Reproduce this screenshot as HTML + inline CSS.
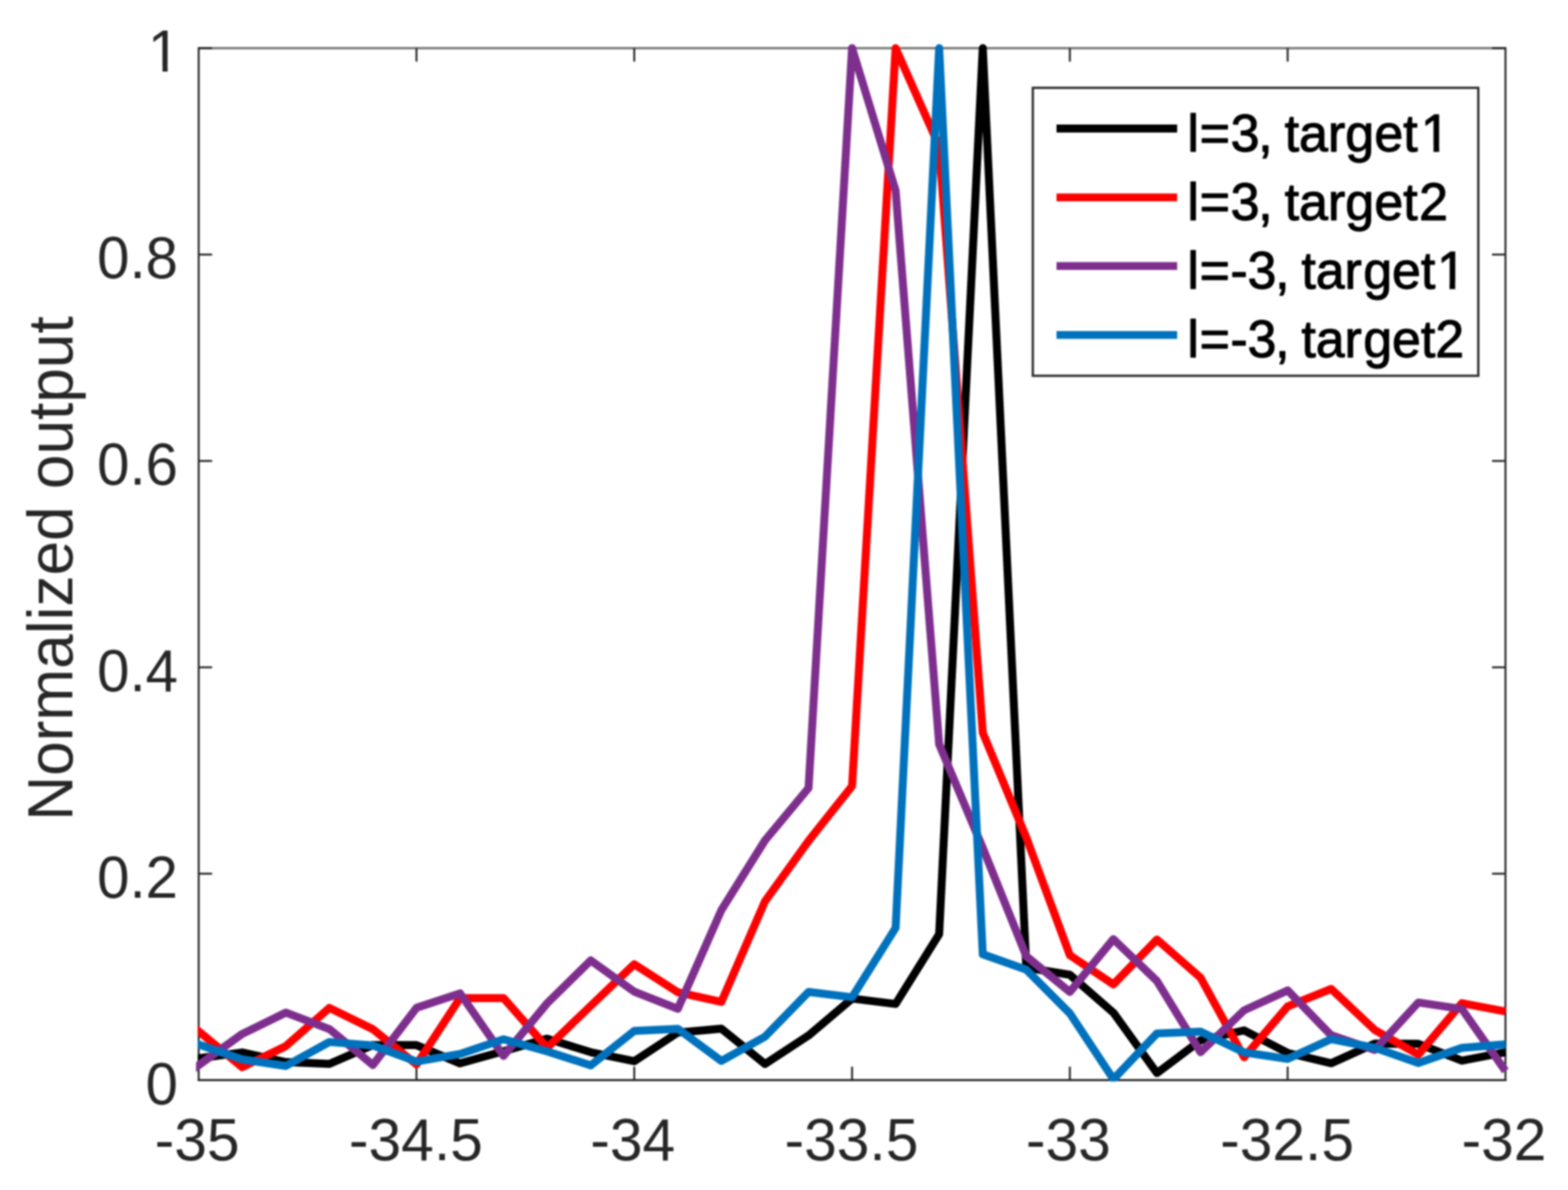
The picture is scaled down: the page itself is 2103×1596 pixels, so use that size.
<!DOCTYPE html>
<html lang="en"><head><meta charset="utf-8"><title>Normalized output</title>
<style>
html,body{margin:0;padding:0;background:#fff;overflow:hidden}
body{width:2103px;height:1596px}
svg{display:block;position:absolute;left:0;top:0}
text{font-family:"Liberation Sans",sans-serif}
.tk{font-size:80px;fill:#262626}
.lg{font-size:70.5px;fill:#000;stroke:#000;stroke-width:1.4;stroke-linejoin:round}
.yl{font-size:84.5px;fill:#262626}
.ln{fill:none;stroke-width:10.7;stroke-linejoin:round;stroke-miterlimit:100;stroke-linecap:butt}
</style></head><body>
<svg width="2103" height="1596" viewBox="0 0 2103 1596">
<defs><clipPath id="ax"><rect x="265.3" y="57.6" width="1757.8" height="1393.0"/></clipPath>
<clipPath id="ax2"><rect x="262.9" y="57.6" width="1760.2" height="1392.7"/></clipPath>
<filter id="bl" x="-2%" y="-2%" width="104%" height="104%" color-interpolation-filters="sRGB"><feGaussianBlur stdDeviation="1.0"/></filter>
<clipPath id="c1y" clipPathUnits="userSpaceOnUse"><path clip-rule="evenodd" d="M-3000,-3000H5000V3000H-3000Z M-41.40,-7.58H-24.38V4H-41.40Z M-17.30,-7.58H-0.91V4H-17.30Z"/></clipPath>
<clipPath id="c1a" clipPathUnits="userSpaceOnUse"><path clip-rule="evenodd" d="M-3000,-3000H5000V3000H-3000Z M318.86,-7.57H333.52V4H318.86Z M341.15,-7.57H355.26V4H341.15Z"/></clipPath>
<clipPath id="c1b" clipPathUnits="userSpaceOnUse"><path clip-rule="evenodd" d="M-3000,-3000H5000V3000H-3000Z M342.34,-7.57H357.00V4H342.34Z M364.63,-7.57H378.74V4H364.63Z"/></clipPath>
</defs>
<rect width="2103" height="1596" fill="#fff"/>
<g filter="url(#bl)">
<g fill="none" stroke-width="2.6">
<line x1="266.5" y1="64.6" x2="2019.1" y2="64.6" stroke="#7c7c7c" stroke-width="3.2"/>
<line x1="2019.1" y1="63.3" x2="2019.1" y2="1449.9" stroke="#262626"/>
<line x1="266.5" y1="63.3" x2="266.5" y2="1449.9" stroke="#262626"/>
<line x1="265.2" y1="1448.6" x2="2020.4" y2="1448.6" stroke="#262626"/>
<g stroke="#262626">
<line x1="558.6" y1="1448.6" x2="558.6" y2="1430.6"/>
<line x1="558.6" y1="64.6" x2="558.6" y2="82.6"/>
<line x1="850.7" y1="1448.6" x2="850.7" y2="1430.6"/>
<line x1="850.7" y1="64.6" x2="850.7" y2="82.6"/>
<line x1="1142.8" y1="1448.6" x2="1142.8" y2="1430.6"/>
<line x1="1142.8" y1="64.6" x2="1142.8" y2="82.6"/>
<line x1="1434.9" y1="1448.6" x2="1434.9" y2="1430.6"/>
<line x1="1434.9" y1="64.6" x2="1434.9" y2="82.6"/>
<line x1="1727.0" y1="1448.6" x2="1727.0" y2="1430.6"/>
<line x1="1727.0" y1="64.6" x2="1727.0" y2="82.6"/>
<line x1="266.5" y1="1171.8" x2="284.5" y2="1171.8"/>
<line x1="2019.1" y1="1171.8" x2="2001.1" y2="1171.8"/>
<line x1="266.5" y1="895.0" x2="284.5" y2="895.0"/>
<line x1="2019.1" y1="895.0" x2="2001.1" y2="895.0"/>
<line x1="266.5" y1="618.2" x2="284.5" y2="618.2"/>
<line x1="2019.1" y1="618.2" x2="2001.1" y2="618.2"/>
<line x1="266.5" y1="341.4" x2="284.5" y2="341.4"/>
<line x1="2019.1" y1="341.4" x2="2001.1" y2="341.4"/>
<line x1="266.5" y1="64.6" x2="284.5" y2="64.6"/>
<line x1="2019.1" y1="64.6" x2="2001.1" y2="64.6"/>
</g></g>
<text class="tk" transform="translate(264.5,1555.5) scale(0.985,1)" text-anchor="middle">-35</text>
<text class="tk" transform="translate(557.8,1555.5) scale(0.985,1)" text-anchor="middle">-34.5</text>
<text class="tk" transform="translate(848.7,1555.5) scale(0.985,1)" text-anchor="middle">-34</text>
<text class="tk" transform="translate(1142.0,1555.5) scale(0.985,1)" text-anchor="middle">-33.5</text>
<text class="tk" transform="translate(1432.9,1555.5) scale(0.985,1)" text-anchor="middle">-33</text>
<text class="tk" transform="translate(1726.2,1555.5) scale(0.985,1)" text-anchor="middle">-32.5</text>
<text class="tk" transform="translate(2017.1,1555.5) scale(0.985,1)" text-anchor="middle">-32</text>
<text class="tk" transform="translate(238.7,1480.6) scale(0.975,1)" text-anchor="end">0</text>
<text class="tk" transform="translate(238.7,1203.8) scale(0.975,1)" text-anchor="end">0.2</text>
<text class="tk" transform="translate(238.7,927.0) scale(0.975,1)" text-anchor="end">0.4</text>
<text class="tk" transform="translate(238.7,650.2) scale(0.975,1)" text-anchor="end">0.6</text>
<text class="tk" transform="translate(238.7,373.4) scale(0.975,1)" text-anchor="end">0.8</text>
<text class="tk" clip-path="url(#c1y)" transform="translate(241.7,95.8) scale(0.975,1)" text-anchor="end">1</text>
<text class="yl" transform="translate(97.0,762.5) rotate(-90) scale(0.987,1)" text-anchor="middle">Normalized output</text>
<polyline class="ln" clip-path="url(#ax)" stroke="#000000" points="258.5,1420.5 266.5,1419.4 324.9,1411.5 383.3,1424.4 441.8,1426.9 500.2,1401.5 558.6,1401.7 617.0,1426.2 675.4,1409.8 733.9,1393.0 792.3,1411.2 850.7,1423.3 909.1,1384.9 967.5,1379.7 1026.0,1427.0 1084.4,1388.8 1142.8,1339.3 1201.2,1346.5 1259.6,1252.8 1318.1,64.6 1376.5,1297.7 1434.9,1307.4 1493.3,1358.2 1551.7,1439.2 1610.2,1395.3 1668.6,1381.9 1727.0,1412.1 1785.4,1426.0 1843.8,1399.7 1902.3,1399.9 1960.7,1422.6 2019.1,1411.2"/>
<polyline class="ln" clip-path="url(#ax)" stroke="#ff0000" points="258.5,1376.5 266.5,1383.1 324.9,1431.3 383.3,1403.1 441.8,1351.7 500.2,1380.4 558.6,1427.7 617.0,1338.6 675.4,1338.6 733.9,1405.1 792.3,1349.0 850.7,1293.2 909.1,1330.7 967.5,1343.7 1026.0,1208.8 1084.4,1127.9 1142.8,1054.2 1201.2,64.6 1259.6,196.1 1318.1,982.7 1376.5,1123.4 1434.9,1281.1 1493.3,1320.3 1551.7,1260.0 1610.2,1311.3 1668.6,1418.0 1727.0,1349.8 1785.4,1326.3 1843.8,1381.3 1902.3,1414.3 1960.7,1345.4 2019.1,1356.6"/>
<polyline class="ln" clip-path="url(#ax2)" stroke="#7e2f8e" points="258.5,1434.4 266.5,1428.7 324.9,1386.7 383.3,1358.1 441.8,1380.2 500.2,1428.3 558.6,1351.7 617.0,1332.3 675.4,1416.2 733.9,1345.5 792.3,1288.1 850.7,1330.0 909.1,1353.0 967.5,1220.7 1026.0,1127.2 1084.4,1056.9 1142.8,64.6 1201.2,255.6 1259.6,998.2 1318.1,1137.2 1376.5,1282.5 1434.9,1330.4 1493.3,1259.5 1551.7,1315.7 1610.2,1411.2 1668.6,1355.0 1727.0,1328.3 1785.4,1388.4 1843.8,1408.2 1902.3,1344.5 1960.7,1353.2 2019.1,1436.4"/>
<polyline class="ln" clip-path="url(#ax)" stroke="#0072bd" points="258.5,1398.1 266.5,1400.9 324.9,1420.9 383.3,1429.6 441.8,1397.5 500.2,1402.2 558.6,1423.7 617.0,1413.6 675.4,1393.8 733.9,1410.1 792.3,1428.9 850.7,1382.6 909.1,1379.8 967.5,1422.9 1026.0,1390.3 1084.4,1330.4 1142.8,1337.5 1201.2,1244.5 1259.6,64.6 1318.1,1279.9 1376.5,1300.5 1434.9,1359.1 1493.3,1447.4 1551.7,1386.0 1610.2,1383.6 1668.6,1411.4 1727.0,1420.2 1785.4,1393.7 1843.8,1405.3 1902.3,1425.6 1960.7,1405.4 2019.1,1400.7"/>
<rect x="1385.2" y="117.8" width="597.5" height="386.2" fill="#fff" stroke="#262626" stroke-width="3.0"/>
<line x1="1417" y1="172.4" x2="1578.8" y2="172.4" stroke="#000000" stroke-width="10.6"/>
<text class="lg" dx="0 1 0.7 -1.7 0 -3.5 0 0 0 0 0 4.5" clip-path="url(#c1a)" transform="translate(1592.5,202.6) scale(0.99,1)">l=3, target1</text>
<line x1="1417" y1="264.8" x2="1578.8" y2="264.8" stroke="#ff0000" stroke-width="10.6"/>
<text class="lg" dx="0 1 0.7 -1.7 0 -3.5 0 0 0 0 0 2" transform="translate(1592.5,295.0) scale(0.99,1)">l=3, target2</text>
<line x1="1417" y1="356.8" x2="1578.8" y2="356.8" stroke="#7e2f8e" stroke-width="10.6"/>
<text class="lg" dx="0 1 0.7 0 -1.7 0 -3.5 0 0 2 0 0 2.5" clip-path="url(#c1b)" transform="translate(1592.5,387.0) scale(0.985,1)">l=-3, target1</text>
<line x1="1417" y1="449.2" x2="1578.8" y2="449.2" stroke="#0072bd" stroke-width="10.6"/>
<text class="lg" dx="0 1 0.7 0 -1.7 0 -3.5 0 0 2 0 0 0" transform="translate(1592.5,479.4) scale(0.985,1)">l=-3, target2</text>
</g>
</svg></body></html>
